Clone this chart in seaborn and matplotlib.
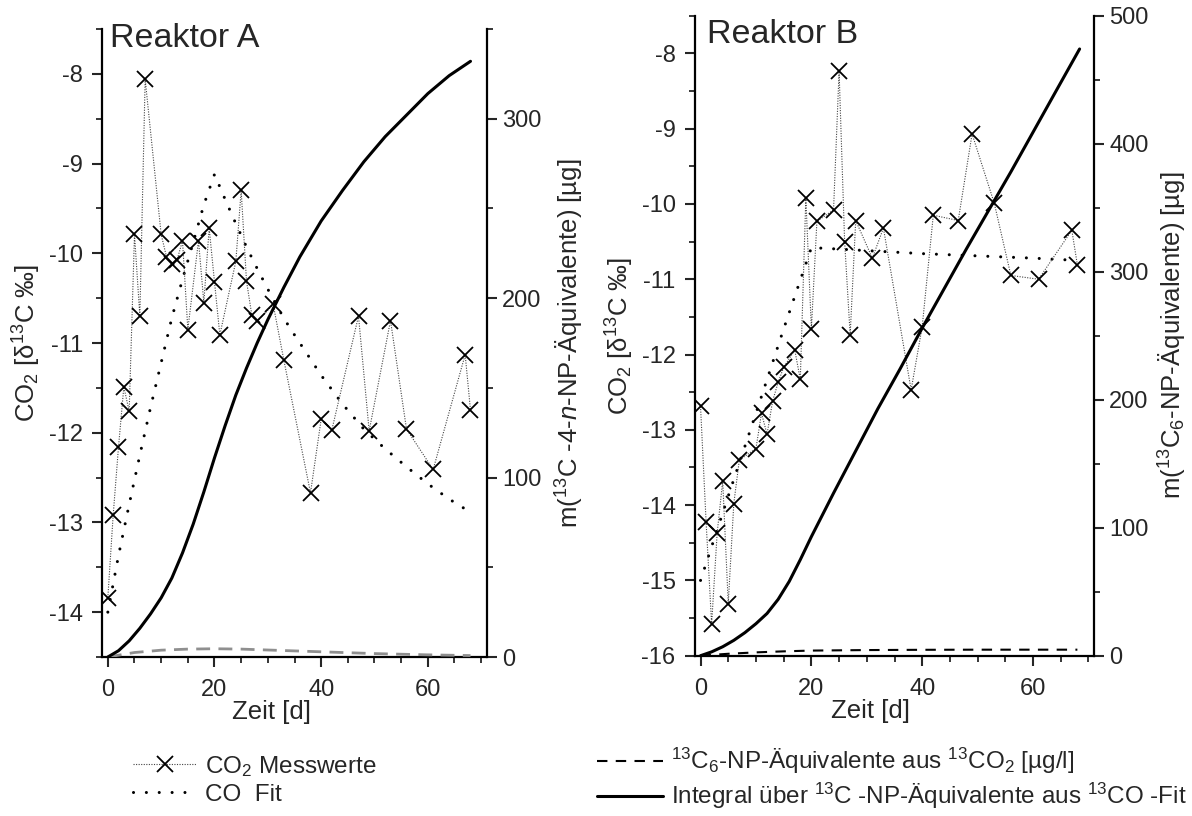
import numpy as np
import pandas as pd
import matplotlib
matplotlib.use("Agg")
import matplotlib.pyplot as plt
import seaborn as sns
from matplotlib.ticker import MultipleLocator

# ---------------- data ----------------
# Reaktor A
a_days = [0, 1, 2, 3, 4, 5, 6, 7, 10, 11, 12, 13, 14, 15, 17, 18, 19, 20, 21, 24,
          25, 26, 27, 28, 31, 33, 38, 40, 42, 47, 49, 53, 56, 61, 67, 68]
a_co2 = [-13.84, -12.92, -12.16, -11.49, -11.76, -9.79, -10.70, -8.06, -9.79, -10.04,
         -10.12, -10.07, -9.86, -10.85, -9.86, -10.55, -9.72, -10.32, -10.91, -10.09,
         -9.30, -10.31, -10.69, -10.76, -10.57, -11.19, -12.67, -11.85, -11.97, -10.70,
         -11.98, -10.75, -11.96, -12.41, -11.13, -11.75]
a_fit_days = [0, 2, 4, 6, 8, 10, 12, 14, 16, 18, 20, 22, 24, 26, 28, 30, 32, 34, 36,
              38, 40, 44, 48, 52, 56, 60, 64, 67]
a_fit = [-14.0, -13.37, -12.80, -12.25, -11.72, -11.22, -10.72, -10.29, -9.88, -9.46,
         -9.12, -9.40, -9.67, -9.93, -10.17, -10.40, -10.62, -10.82, -11.00, -11.18,
         -11.36, -11.68, -11.96, -12.18, -12.38, -12.57, -12.74, -12.85]
a_int_days = [0, 2, 4, 6, 8, 10, 12, 14, 16, 18, 20, 22, 24, 26, 28, 30, 33, 36, 40,
              44, 48, 52, 56, 60, 64, 68]
a_int = [0, 3.5, 9, 16, 24, 33, 44, 58, 74, 92, 111, 129, 146, 161, 175, 188, 206, 223,
         243, 260, 276, 290, 302, 314, 324, 332]
a_np_days = [0, 5, 10, 15, 20, 25, 30, 40, 50, 60, 68]
a_np = [0, 2.5, 3.8, 4.4, 4.6, 4.4, 3.9, 2.9, 1.9, 1.2, 0.8]

# Reaktor B
b_days = [0, 1, 2, 3, 4, 5, 6, 7, 10, 11, 12, 13, 14, 15, 17, 18, 19, 20, 21, 24,
          25, 26, 27, 28, 31, 33, 38, 40, 42, 46.5, 49, 53, 56, 61, 67, 68]
b_co2 = [-12.69, -14.22, -15.58, -14.37, -13.68, -15.31, -13.98, -13.40, -13.25, -12.78,
         -13.06, -12.62, -12.37, -12.17, -11.94, -12.33, -9.92, -11.66, -10.23, -10.08,
         -8.24, -10.50, -11.74, -10.22, -10.72, -10.32, -12.47, -11.63, -10.15, -10.22,
         -9.07, -9.99, -10.95, -11.00, -10.35, -10.81]
b_fit_days = [0, 5, 10, 15, 20, 25, 30, 40, 50, 60, 68]
b_fit = [-15.0, -13.88, -12.78, -11.66, -10.58, -10.60, -10.62, -10.66, -10.69, -10.72, -10.75]
b_int_days = [0, 2, 4, 6, 8, 10, 12, 14, 16, 18, 20, 22, 24, 28, 32, 36, 40, 44, 48,
              52, 56, 60, 64, 68.4]
b_int = [0, 3, 7, 12, 18, 25, 33, 44, 58, 75, 93, 110, 127, 160, 193, 224, 256, 287,
         318, 348, 378, 409, 440, 474]
b_np_days = [0, 5, 10, 15, 20, 30, 40, 50, 60, 68]
b_np = [0, 1.5, 2.6, 3.4, 4.0, 4.4, 4.6, 4.7, 4.7, 4.7]

# ---------------- style ----------------
sns.set_theme(style="white")
plt.rcParams['font.family'] = ['Liberation Sans', 'DejaVu Sans']
plt.rcParams['mathtext.fontset'] = 'custom'
plt.rcParams['mathtext.rm'] = 'Liberation Sans'
plt.rcParams['mathtext.it'] = 'Liberation Sans:italic'
plt.rcParams['mathtext.bf'] = 'Liberation Sans:bold'
plt.rcParams['axes.unicode_minus'] = False

W, H = 1192, 816
fig = plt.figure(figsize=(W / 100, H / 100), dpi=100)
fig.patch.set_facecolor('white')

TICK_FS = 17
LAB_FS = 18.5
LEG_FS = 17.5


def px_rect(x0, y0, x1, y1):
    return [x0 / W, 1 - y1 / H, (x1 - x0) / W, (y1 - y0) / H]


def style_axes(ax, ax2, ylim, y2lim):
    ax.set_xlim(-1, 71)
    ax.set_ylim(*ylim)
    ax2.set_ylim(*y2lim)
    ax.xaxis.set_major_locator(MultipleLocator(20))
    ax.xaxis.set_minor_locator(MultipleLocator(5))
    ax.yaxis.set_major_locator(MultipleLocator(1))
    ax.yaxis.set_minor_locator(MultipleLocator(0.5))
    ax2.yaxis.set_major_locator(MultipleLocator(100))
    ax2.yaxis.set_minor_locator(MultipleLocator(50))
    for a in (ax, ax2):
        a.tick_params(which='major', direction='out', length=7, width=1.5,
                      labelsize=TICK_FS)
        a.tick_params(which='minor', direction='out', length=4, width=1.3)
        a.spines['top'].set_visible(False)
        for s in a.spines.values():
            s.set_linewidth(1.6)
            s.set_color('black')
        a.set_facecolor('none')
    ax.spines['right'].set_visible(False)
    ax2.spines['left'].set_visible(False)
    ax2.spines['bottom'].set_visible(False)
    ax.tick_params(axis='y', which='both', left=True, right=False, pad=7)
    ax.tick_params(axis='x', which='both', bottom=True, top=False, pad=9)
    ax2.tick_params(axis='y', which='both', right=True, left=False, pad=4)
    ax.set_xlabel('Zeit [d]', fontsize=LAB_FS, labelpad=2)
    ax.xaxis.set_label_coords(0.44, -0.068)
    ax.set_ylabel('CO$_2$ [δ$^{13}$C ‰]', fontsize=LAB_FS, labelpad=4)


def draw_panel(ax, ax2, days, co2, fdays, fit, idays, integ, ndays, npv, np_color, np_lw, np_dash):
    d_meas = pd.DataFrame({'t': days, 'v': co2})
    d_fit = pd.DataFrame({'t': fdays, 'v': fit})
    d_int = pd.DataFrame({'t': idays, 'v': integ})
    d_np = pd.DataFrame({'t': ndays, 'v': npv})

    sns.lineplot(data=d_np, x='t', y='v', ax=ax2, color=np_color, lw=np_lw,
                 estimator=None, sort=False)
    l_np = ax2.lines[-1]
    l_np.set_dashes(np_dash)

    sns.lineplot(data=d_int, x='t', y='v', ax=ax2, color='black', lw=2.2,
                 estimator=None, sort=False)
    l_int = ax2.lines[-1]

    sns.lineplot(data=d_fit, x='t', y='v', ax=ax, color='black', lw=2.2,
                 estimator=None, sort=False)
    l_fit = ax.lines[-1]
    l_fit.set_dashes((0.01, 4.2))
    l_fit.set_dash_capstyle('round')

    sns.lineplot(data=d_meas, x='t', y='v', ax=ax, color='#444444', lw=0.8,
                 marker='x', markersize=12, markeredgecolor='black',
                 markeredgewidth=1.3, estimator=None, sort=False)
    l_meas = ax.lines[-1]
    l_meas.set_dashes((1, 1.3))
    for a in (ax, ax2):
        a.set_xlabel('')
        a.set_ylabel('')
    return l_meas, l_fit, l_int, l_np


# ---------- Reaktor A ----------
axA = fig.add_axes(px_rect(102.5, 29, 486.5, 657))
axA2 = axA.twinx()
mA, fA, iA, nA = draw_panel(axA, axA2, a_days, a_co2, a_fit_days, a_fit, a_int_days, a_int,
                            a_np_days, a_np, '#8f8f8f', 2.0, (5, 3))
style_axes(axA, axA2, (-14.5, -7.5), (0, 350))
axA2.set_ylabel('m($^{13}$C -4-$n$-NP-Äquivalente) [µg]', fontsize=LAB_FS, labelpad=9)
fig.text(110 / W, 1 - 47 / H, 'Reaktor A', fontsize=24.5, va='baseline', ha='left')

# ---------- Reaktor B ----------
axB = fig.add_axes(px_rect(695, 15.7, 1094, 655.7))
axB2 = axB.twinx()
mB, fB, iB, nB = draw_panel(axB, axB2, b_days, b_co2, b_fit_days, b_fit, b_int_days, b_int,
                            b_np_days, b_np, 'black', 1.5, (5, 4))
style_axes(axB, axB2, (-16, -7.5), (0, 500))
axB2.set_ylabel('m($^{13}$C$_6$-NP-Äquivalente) [µg]', fontsize=LAB_FS, labelpad=6)
fig.text(707 / W, 1 - 43 / H, 'Reaktor B', fontsize=24.5, va='baseline', ha='left')

# ---------- legends ----------
legA = fig.legend([mA, fA], ['CO$_2$ Messwerte', 'CO  Fit'],
                  loc='upper left', bbox_to_anchor=(133 / W, 1 - 754 / H),
                  frameon=False, fontsize=LEG_FS, handlelength=2.6, handletextpad=0.35,
                  labelspacing=0.2, borderaxespad=0, borderpad=0, numpoints=1)
legB = fig.legend([nB, iB],
                  ['$^{13}$C$_6$-NP-Äquivalente aus $^{13}$CO$_2$ [µg/l]',
                   'Integral über $^{13}$C -NP-Äquivalente aus $^{13}$CO -Fit'],
                  loc='upper left', bbox_to_anchor=(597 / W, 1 - 746 / H),
                  frameon=False, fontsize=LEG_FS, handlelength=2.7, handletextpad=0.33,
                  labelspacing=0.2, borderaxespad=0, borderpad=0)

fig.savefig('out.png', dpi=100, facecolor='white')
